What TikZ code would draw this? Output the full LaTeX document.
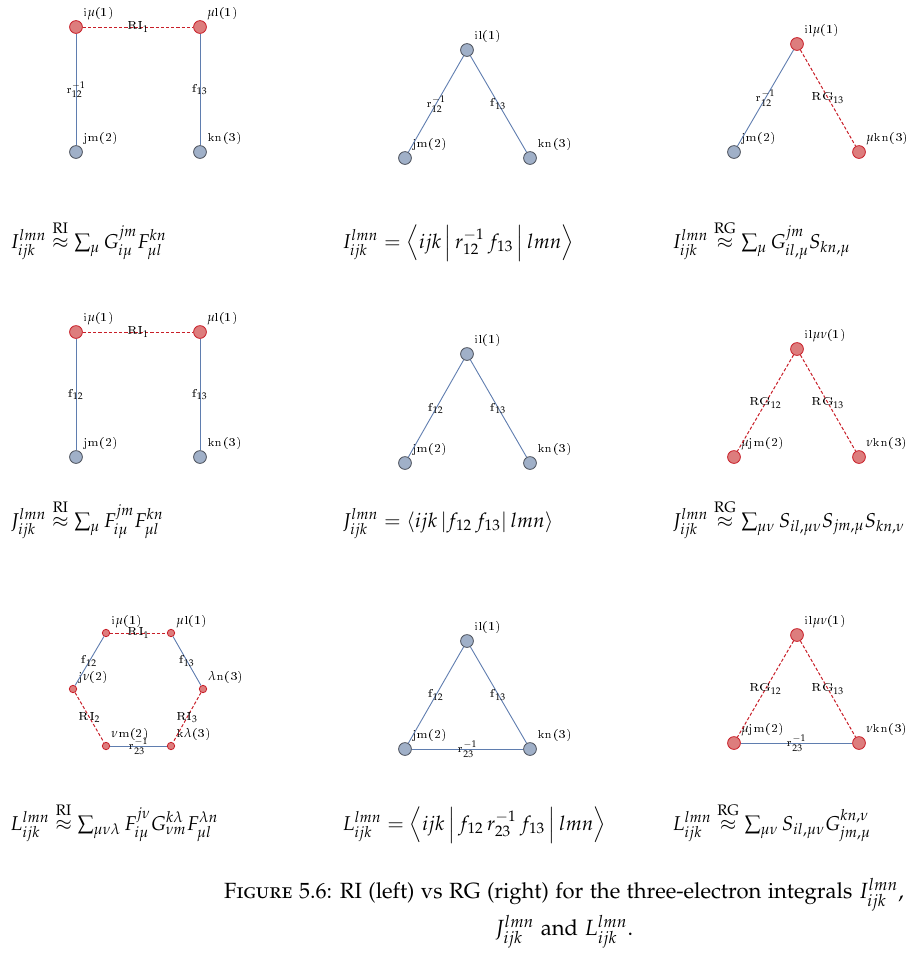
\documentclass[tikz,border=0pt]{standalone}
\usepackage[T1]{fontenc}
\usepackage[sc]{mathpazo}
\usepackage{amsmath}
\definecolor{vred}{RGB}{200,30,40}
\definecolor{vredfill}{RGB}{221,125,125}
\definecolor{vgrey}{RGB}{160,176,200}
\definecolor{vgreyline}{RGB}{75,80,90}
\definecolor{eblue}{RGB}{95,125,175}
\begin{document}
\begin{tikzpicture}[x=0.5pt,y=0.5pt,
    vx/.style={circle, draw=vgreyline, fill=vgrey, line width=0.4pt, minimum size=6.4pt, inner sep=0pt},
    vxri/.style={vx, draw=vred, fill=vredfill},
    vxs/.style={vxri, minimum size=3.7pt},
    fline/.style={eblue, line width=0.45pt},
    riline/.style={vred, line width=0.5pt, dash pattern=on 1.6pt off 1pt},
    lab/.style={text=black, font=\fontfamily{lmr}\fontsize{6.4}{7}\selectfont, inner sep=0.5pt},
    every label/.style={lab, inner sep=1pt},
    eq/.style={anchor=base west, inner sep=0pt, font=\fontsize{10}{12}\selectfont}]
  \useasboundingbox (0,0) rectangle (913,-965);
  % I: RI
  \node[vxri, label=above right:i$\mu$(1)] (ia) at (76,-27) {};
  \node[vxri, label=above right:$\mu$l(1)] (ib) at (200,-27) {};
  \node[vx, label=above right:jm(2)] (ic) at (76,-152) {};
  \node[vx, label=above right:kn(3)] (id) at (200,-152) {};
  \draw[riline] (ia) -- node[lab] {RI$_1$} (ib);
  \draw[fline] (ia) -- node[lab] {r$^{-1}_{12}$} (ic);
  \draw[fline] (ib) -- node[lab] {f$_{13}$} (id);
  % I: exact
  \node[vx, label=above right:il(1)] (ta) at (467,-50) {};
  \node[vx, label=above right:jm(2)] (tb) at (405,-158) {};
  \node[vx, label=above right:kn(3)] (tc) at (530,-158) {};
  \draw[fline] (ta) -- node[lab] {r$^{-1}_{12}$} (tb);
  \draw[fline] (ta) -- node[lab] {f$_{13}$} (tc);
  % I: RG
  \node[vxri, label=above right:il$\mu$(1)] (ua) at (797,-44) {};
  \node[vx, label=above right:jm(2)] (ub) at (734,-152) {};
  \node[vxri, label=above right:$\mu$kn(3)] (uc) at (859,-152) {};
  \draw[fline] (ua) -- node[lab] {r$^{-1}_{12}$} (ub);
  \draw[riline] (ua) -- node[lab] {RG$_{13}$} (uc);
  \node[eq] (eqia) at (10,-248) {$I^{lmn}_{ijk} \overset{\mathrm{RI}}{\approx} \sum_{\mu} G^{jm}_{i\mu} F^{kn}_{\mu l}$};
  \node[eq] (eqib) at (342,-248) {$I^{lmn}_{ijk} = \left\langle ijk \,\middle|\, r^{-1}_{12}\, f_{13} \,\middle|\, lmn \right\rangle$};
  \node[eq] (eqic) at (672,-248) {$I^{lmn}_{ijk} \overset{\mathrm{RG}}{\approx} \sum_{\mu} G^{jm}_{il,\mu} S_{kn,\mu}$};
  % J: RI
  \node[vxri, label=above right:i$\mu$(1)] (ja) at (76,-332) {};
  \node[vxri, label=above right:$\mu$l(1)] (jb) at (200,-332) {};
  \node[vx, label=above right:jm(2)] (jc) at (76,-457) {};
  \node[vx, label=above right:kn(3)] (jd) at (200,-457) {};
  \draw[riline] (ja) -- node[lab] {RI$_1$} (jb);
  \draw[fline] (ja) -- node[lab] {f$_{12}$} (jc);
  \draw[fline] (jb) -- node[lab] {f$_{13}$} (jd);
  % J: exact
  \node[vx, label=above right:il(1)] (ka) at (467,-354) {};
  \node[vx, label=above right:jm(2)] (kb) at (405,-463) {};
  \node[vx, label=above right:kn(3)] (kc) at (530,-463) {};
  \draw[fline] (ka) -- node[lab] {f$_{12}$} (kb);
  \draw[fline] (ka) -- node[lab] {f$_{13}$} (kc);
  % J: RG
  \node[vxri, label=above right:il$\mu\nu$(1)] (ma) at (797,-349) {};
  \node[vxri, label=above right:$\mu$jm(2)] (mb) at (734,-457) {};
  \node[vxri, label=above right:$\nu$kn(3)] (mc) at (859,-457) {};
  \draw[riline] (ma) -- node[lab] {RG$_{12}$} (mb);
  \draw[riline] (ma) -- node[lab] {RG$_{13}$} (mc);
  \node[eq] (eqja) at (10,-527) {$J^{lmn}_{ijk} \overset{\mathrm{RI}}{\approx} \sum_{\mu} F^{jm}_{i\mu} F^{kn}_{\mu l}$};
  \node[eq] (eqjb) at (342,-527) {$J^{lmn}_{ijk} = \langle ijk\,| f_{12}\, f_{13} |\, lmn \rangle$};
  \node[eq] (eqjc) at (672,-527) {$J^{lmn}_{ijk} \overset{\mathrm{RG}}{\approx} \sum_{\mu\nu} S_{il,\mu\nu} S_{jm,\mu} S_{kn,\nu}$};
  % L: RI
  \node[vxs, label=above right:i$\mu$(1)] (ha) at (106,-633) {};
  \node[vxs, label=above right:$\mu$l(1)] (hb) at (171,-633) {};
  \node[vxs, label=above right:j$\nu$(2)] (hc) at (73,-689) {};
  \node[vxs, label=above right:$\lambda$n(3)] (hd) at (203,-689) {};
  \node[vxs, label=above right:$\nu$m(2)] (he) at (106,-746) {};
  \node[vxs, label=above right:k$\lambda$(3)] (hf) at (171,-746) {};
  \draw[riline] (ha) -- node[lab] {RI$_1$} (hb);
  \draw[fline] (ha) -- node[lab] {f$_{12}$} (hc);
  \draw[fline] (hb) -- node[lab] {f$_{13}$} (hd);
  \draw[riline] (hc) -- node[lab] {RI$_2$} (he);
  \draw[riline] (hd) -- node[lab] {RI$_3$} (hf);
  \draw[fline] (he) -- node[lab] {r$^{-1}_{23}$} (hf);
  % L: exact
  \node[vx, label=above right:il(1)] (la) at (467,-641) {};
  \node[vx, label=above right:jm(2)] (lb) at (405,-749) {};
  \node[vx, label=above right:kn(3)] (lc) at (530,-749) {};
  \draw[fline] (la) -- node[lab] {f$_{12}$} (lb);
  \draw[fline] (la) -- node[lab] {f$_{13}$} (lc);
  \draw[fline] (lb) -- node[lab] {r$^{-1}_{23}$} (lc);
  % L: RG
  \node[vxri, label=above right:il$\mu\nu$(1)] (na) at (797,-635) {};
  \node[vxri, label=above right:$\mu$jm(2)] (nb) at (734,-743) {};
  \node[vxri, label=above right:$\nu$kn(3)] (nc) at (859,-743) {};
  \draw[riline] (na) -- node[lab] {RG$_{12}$} (nb);
  \draw[riline] (na) -- node[lab] {RG$_{13}$} (nc);
  \draw[fline] (nb) -- node[lab] {r$^{-1}_{23}$} (nc);
  \node[eq] (eqla) at (10,-830) {$L^{lmn}_{ijk} \overset{\mathrm{RI}}{\approx} \sum_{\mu\nu\lambda} F^{j\nu}_{i\mu} G^{k\lambda}_{\nu m} F^{\lambda n}_{\mu l}$};
  \node[eq] (eqlb) at (342,-830) {$L^{lmn}_{ijk} = \left\langle ijk \,\middle|\, f_{12}\, r^{-1}_{23}\, f_{13} \,\middle|\, lmn \right\rangle$};
  \node[eq] (eqlc) at (672,-830) {$L^{lmn}_{ijk} \overset{\mathrm{RG}}{\approx} \sum_{\mu\nu} S_{il,\mu\nu} G^{kn,\nu}_{jm,\mu}$};
  % caption
  \node[align=center, font=\fontsize{11}{18.5}\selectfont] (cap) at (564,-913)
    {\textsc{Figure 5.6:} RI (left) vs RG (right) for the three-electron integrals $I^{lmn}_{ijk}$,\\
     $J^{lmn}_{ijk}$ and $L^{lmn}_{ijk}$.};
\end{tikzpicture}
\end{document}
